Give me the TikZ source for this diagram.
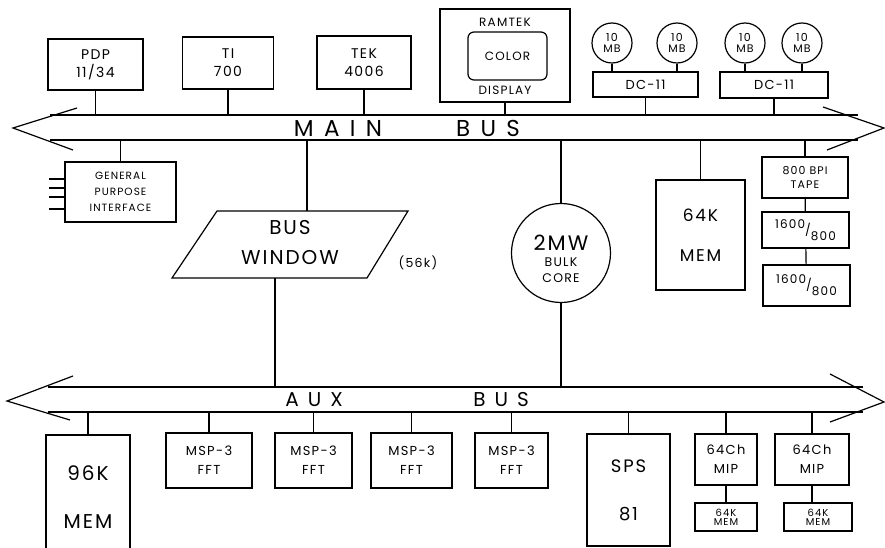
\documentclass[tikz,border=0pt]{standalone}
\usepackage{fontspec}
\setmainfont{Poppins}[LetterSpace=10]
\newfontfamily\ancho{Poppins}[LetterSpace=45]
\usepackage{tikz}

\begin{document}
\begin{tikzpicture}[x=1pt,y=-1pt,
  caja/.style={draw,line width=1.2pt,inner sep=0pt,align=center},
  linea/.style={line width=1.2pt},
  disco/.style={draw,circle,line width=1.2pt,inner sep=0pt,minimum size=40,align=center,
    font=\fontsize{11}{11}\selectfont}]
  \useasboundingbox (0,0) rectangle (885,548);
  \clip (0,0) rectangle (885,548);
  % bus principal
  \coordinate (mt) at (0,115);
  \coordinate (mb) at (0,140);
  \draw[linea] (50,115) -- (858,115);
  \draw[linea] (50,140) -- (858,140);
  \draw[linea] (77,108) -- (13,128) -- (73,150);
  \draw[linea] (823,107) -- (884,128) -- (827,150);
  \node (mainA) at (338,128) {\ancho\fontsize{23}{23}\selectfont MAIN};
  \node (mainB) at (488,128) {\ancho\fontsize{23}{23}\selectfont BUS};
  % bus auxiliar
  \coordinate (at) at (0,387);
  \coordinate (ab) at (0,412);
  \draw[linea] (48,387) -- (863,387);
  \draw[linea] (48,412) -- (863,412);
  \draw[linea] (73,376) -- (7,401) -- (70,420);
  \draw[linea] (830,374) -- (884,402) -- (830,422);
  \node (auxA) at (314,400) {\ancho\fontsize{20}{20}\selectfont AUX};
  \node (auxB) at (501,400) {\ancho\fontsize{20}{20}\selectfont BUS};

  % equipos arriba del bus principal
  \node[caja,minimum width=95,minimum height=51,font=\fontsize{14}{18}\selectfont] (pdp) at (95.5,64.5) {PDP\\11/34};
  \node[caja,minimum width=91,minimum height=52,font=\fontsize{14}{18}\selectfont] (ti) at (228,63) {TI\\700};
  \node[caja,minimum width=94,minimum height=53,font=\fontsize{14}{18}\selectfont] (tek) at (364,62.5) {TEK\\4006};
  \foreach \n in {pdp,ti,tek}
    \draw[linea] (\n.south) -- (\n.south |- mt);
  \node[caja,minimum width=130,minimum height=93] (ramtek) at (505,55.5) {};
  \node[caja,rounded corners=6pt,minimum width=79,minimum height=48,font=\fontsize{12}{12}\selectfont] (color) at (507.5,56) {COLOR};
  \node[font=\fontsize{12}{12}\selectfont] (ramtekt) at (505,22) {RAMTEK};
  \node[font=\fontsize{12}{12}\selectfont] (display) at (505,90) {DISPLAY};
  \draw[linea] (ramtek.south) -- (ramtek.south |- mt);
  % discos
  \node[caja,minimum width=105,minimum height=25,font=\fontsize{13}{13}\selectfont] (dc1) at (645.5,84.5) {DC-11};
  \node[caja,minimum width=108,minimum height=26,font=\fontsize{13}{13}\selectfont] (dc2) at (774,85) {DC-11};
  \foreach \i/\x/\d in {1/612/dc1,2/677/dc1,3/745/dc2,4/802/dc2}{
    \node[disco] (d\i) at (\x,43) {10\\MB};
    \draw[linea] (d\i.south) -- (d\i.south |- \d.north);
  }
  \draw[linea] (dc1.south) -- (dc1.south |- mt);
  \draw[linea] (dc2.south) -- (dc2.south |- mt);

  % equipos abajo del bus principal
  \node[caja,minimum width=111,minimum height=60,font=\fontsize{10.5}{16}\selectfont] (gpi) at (120.5,192) {GENERAL\\PURPOSE\\INTERFACE};
  \draw[linea] (gpi.north) -- (gpi.north |- mb);
  \foreach \y in {179,188,197,209}
    \draw[linea] (gpi.west |- 0,\y) -- ++(-15,0);
  % ventana
  \coordinate (vt) at (307,211);
  \coordinate (vb) at (275,278);
  \draw[linea] (217,211) -- (408,211) -- (367,278) -- (172,278) -- cycle;
  \node[align=center,font=\fontsize{20}{30}\selectfont] (ventana) at (290,243) {BUS\\WINDOW};
  \node[font=\fontsize{12.5}{12}\selectfont] (tam) at (418,263) {(56k)};
  \draw[linea] (vt |- mb) -- (vt);
  \draw[linea] (vb) -- (vb |- at);
  % memoria de nucleo
  \node[caja,circle,minimum size=99] (core) at (561,253) {};
  \node[align=center,font=\fontsize{12.5}{16}\selectfont] (coret) at (561,259) {{\fontsize{21}{21}\selectfont 2MW}\\[0pt]BULK\\CORE};
  \draw[linea] (core.north) -- (core.north |- mb);
  \draw[linea] (core.south) -- (core.south |- at);
  \node[caja,minimum width=89,minimum height=110,font=\fontsize{17}{40}\selectfont] (mem) at (700.5,235) {64K\\MEM};
  \draw[linea] (mem.north) -- (mem.north |- mb);
  % cintas
  \node[caja,minimum width=86,minimum height=41,font=\fontsize{11}{14}\selectfont] (tape) at (805,177.5) {800 BPI\\TAPE};
  \node[caja,minimum width=87,minimum height=36,font=\fontsize{12}{12}\selectfont] (t1) at (805.5,230) {\raisebox{6pt}{1600}/\raisebox{-6pt}{800}};
  \node[caja,minimum width=87,minimum height=41,font=\fontsize{12}{12}\selectfont] (t2) at (806.5,285.5) {\raisebox{6pt}{1600}/\raisebox{-6pt}{800}};
  \draw[linea] (tape.north) -- (tape.north |- mb);
  \draw[linea] (tape) -- (t1);
  \draw[linea] (t1) -- (t2);

  % equipos del bus auxiliar
  \node[caja,minimum width=84,minimum height=125,font=\fontsize{20}{48}\selectfont] (mem96) at (88,497.5) {96K\\MEM};
  \draw[linea] (mem96.north) -- (mem96.north |- ab);
  \foreach \i/\x/\w in {1/209/86,2/313.5/77,3/411.5/81,4/511.5/73}{
    \node[caja,minimum width=\w,minimum height=55,font=\fontsize{13}{19}\selectfont] (msp\i) at (\x,460.5) {MSP-3\\FFT};
    \draw[linea] (msp\i.north) -- (msp\i.north |- ab);
  }
  \node[caja,minimum width=83,minimum height=112,font=\fontsize{18}{48}\selectfont] (sps) at (628.5,490) {SPS\\81};
  \draw[linea] (sps.north) -- (sps.north |- ab);
  \foreach \i/\x/\xm/\wm in {1/726/726/62,2/812/818/68}{
    \node[caja,minimum width=\wm+\i*6-6,minimum height=51,font=\fontsize{13}{19}\selectfont] (mip\i) at (\x,459.5) {64Ch\\MIP};
    \node[caja,minimum width=\wm,minimum height=28,font=\fontsize{10}{9}\selectfont] (mm\i) at (\xm,517) {64K\\MEM};
    \draw[linea] (mip\i.north) -- (mip\i.north |- ab);
    \draw[linea] (mip\i.south) -- (mip\i.south |- mm\i.north);
  }
\end{tikzpicture}
\end{document}
